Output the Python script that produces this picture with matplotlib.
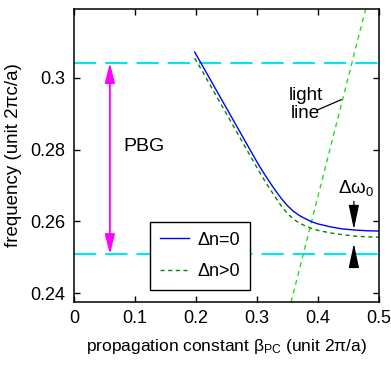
import matplotlib
matplotlib.use('Agg')
import matplotlib.pyplot as plt

## font: Arial-like sans
plt.rcParams['font.family'] = ['Liberation Sans', 'DejaVu Sans']
plt.rcParams['mathtext.default'] = 'regular'
plt.rcParams['lines.scale_dashes'] = False

## dispersion curves
beta = [0.198, 0.21, 0.23, 0.25, 0.27, 0.29, 0.30, 0.31, 0.32, 0.33, 0.34,
        0.35, 0.36, 0.37, 0.38, 0.39, 0.40, 0.42, 0.44, 0.46, 0.48, 0.5]
freq_dn0 = [0.3072, 0.3036, 0.2976, 0.2916, 0.2856, 0.2796, 0.2766, 0.2738,
            0.2712, 0.2687, 0.2664, 0.2644, 0.2628, 0.2616, 0.2607, 0.2599,
            0.2593, 0.2585, 0.2579, 0.2576, 0.2574, 0.2573]
freq_dnp = [0.3055, 0.3020, 0.2960, 0.2900, 0.2840, 0.2780, 0.2750, 0.2721,
            0.2694, 0.2668, 0.2643, 0.2622, 0.2606, 0.2595, 0.2587, 0.2580,
            0.2575, 0.2568, 0.2563, 0.2559, 0.2557, 0.2556]

## light line end points
light_beta = [0.356, 0.478]
light_freq = [0.2375, 0.319]

## photonic band gap edges
band_edges = [0.2508, 0.3042]

xticks = [0, 0.1, 0.2, 0.3, 0.4, 0.5]
xtick_labels = ['0', '0.1', '0.2', '0.3', '0.4', '0.5']
yticks = [0.24, 0.26, 0.28, 0.30]
ytick_labels = ['0.24', '0.26', '0.28', '0.3']

fig = plt.figure(figsize=(3.91, 3.73), dpi=100)
ax = fig.add_axes([0.189, 0.190, 0.780, 0.786])

## band edges
for e in band_edges:
    ax.plot([0, 0.5], [e, e], color='#00e5ee', lw=1.5, dashes=(16, 6.5))

## light line
ax.plot(light_beta, light_freq, color='#22dd22', lw=1.0, dashes=(3.5, 3))

## curves
l1, = ax.plot(beta, freq_dn0, color='#0000ff', lw=1.0, label='Δn=0')
l2, = ax.plot(beta, freq_dnp, color='#008800', lw=1.0, dashes=(3, 2.5), label='Δn>0')

## PBG arrow
ax.annotate('', xy=(0.059, band_edges[1]), xytext=(0.059, band_edges[0]),
            arrowprops=dict(arrowstyle='<|-|>,head_length=0.6,head_width=0.15',
                            color='#ff00ff', lw=1.3, mutation_scale=20,
                            shrinkA=0, shrinkB=0))
ax.text(0.115, 0.2808, 'PBG', fontsize=14, ha='center', va='center')

## light line label
ax.text(0.380, 0.2925, 'light\nline', fontsize=13.5, ha='center', va='center',
        linespacing=1.1)
ax.plot([0.400, 0.438], [0.2911, 0.2939], color='black', lw=0.9)

## delta omega arrows
ax.annotate('', xy=(0.459, 0.2578), xytext=(0.459, 0.2656),
            arrowprops=dict(arrowstyle='-|>,head_length=0.75,head_width=0.16',
                            color='black', lw=0.9, mutation_scale=20,
                            shrinkA=0, shrinkB=0))
ax.annotate('', xy=(0.459, 0.2538), xytext=(0.459, 0.2486),
            arrowprops=dict(arrowstyle='-|>,head_length=0.75,head_width=0.16',
                            color='black', lw=0.9, mutation_scale=20,
                            shrinkA=0, shrinkB=0))
ax.text(0.462, 0.2694, 'Δω$_0$', fontsize=13.5, ha='center', va='center')

## axes
ax.set_xlim(0, 0.5)
ax.set_ylim(0.2375, 0.3192)
ax.set_xticks(xticks)
ax.set_xticklabels(xtick_labels)
ax.set_yticks(yticks)
ax.set_yticklabels(ytick_labels)
ax.tick_params(direction='in', length=4, width=1, labelsize=13,
               top=True, right=True, pad=6)
for s in ax.spines.values():
    s.set_linewidth(1.1)
ax.set_xlabel('propagation constant β$_{PC}$ (unit 2π/a)', fontsize=12.5, labelpad=7)
ax.set_ylabel('frequency (unit 2πc/a)', fontsize=13.5, labelpad=6)

leg = ax.legend(handles=[l1, l2], loc='lower left', bbox_to_anchor=(0.249, 0.041),
                fontsize=13, frameon=True, fancybox=False, edgecolor='black',
                framealpha=1, handlelength=1.6, handletextpad=0.5,
                labelspacing=0.8, borderpad=0.55, borderaxespad=0)
leg.get_frame().set_linewidth(1.0)

fig.savefig('out.png', dpi=100)
